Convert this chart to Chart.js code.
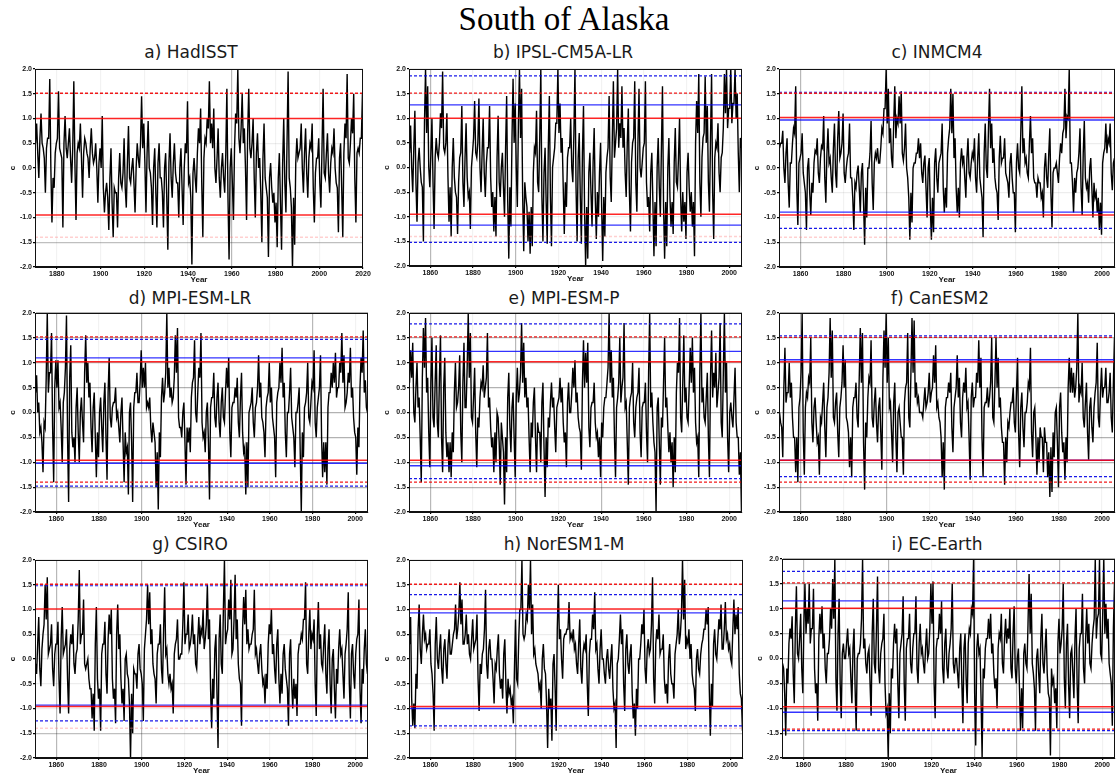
<!DOCTYPE html>
<html><head><meta charset="utf-8">
<script src="https://cdn.jsdelivr.net/npm/chart.js@4.4.1/dist/chart.umd.min.js"></script>
<style>
body{margin:0;background:#fff;width:1116px;height:773px;overflow:hidden;position:relative}
#main{position:absolute;top:0;left:0;width:1128px;text-align:center;font-family:'Liberation Serif',serif;font-size:33px;line-height:38px;color:#000}
.pt{position:absolute;font-family:'DejaVu Sans',sans-serif;font-size:17px;white-space:nowrap;transform:translate(-50%,-50%);color:#1a1a1a}
canvas{position:absolute}
</style></head><body>
<div id="main">South of Alaska</div>
<script>
// ---------- DATA ----------
const panelTitles = ['a) HadISST','b) IPSL-CM5A-LR','c) INMCM4','d) MPI-ESM-LR','e) MPI-ESM-P','f) CanESM2','g) CSIRO','h) NorESM1-M','i) EC-Earth'];
const startYears = [1870,1850,1850,1850,1850,1850,1850,1850,1850];
const xMins = [1870,1850,1850,1850,1850,1850,1850,1850,1850];
const xMaxs = [2020,2006,2006,2006,2006,2006,2006,2006,2006];
const xTicksObs = [1880,1900,1920,1940,1960,1980,2000,2020];
const xTicksModel = [1860,1880,1900,1920,1940,1960,1980,2000];
const yTicks = [-2,-1.5,-1,-0.5,0,0.5,1,1.5,2];

// per-year excursion (spike) values
const hadisst = [
0.9,-0.2,1.1,0.4,-0.5,0.6,1.8,-1.1,-0.4,0.5,
1.55,0.3,-1.2,1.05,0.2,0.8,-0.3,1.75,-1.05,0.5,
0.9,-0.6,0.6,0.3,-0.2,0.8,0.1,0.5,-0.7,0.4,
1.05,-0.9,-0.3,-1.25,0.4,-1.4,-0.5,-1.2,0.3,-0.4,
0.6,-0.8,0.85,-0.3,0.2,-0.9,0.5,0.0,1.45,0.9,
-0.9,0.95,-0.1,-1.15,0.4,-1.2,0.5,-0.2,-1.2,0.3,
-1.65,0.7,-0.6,0.5,-0.3,-1.0,0.4,-1.15,0.5,1.35,
-0.2,-1.95,0.2,-0.5,0.8,1.2,-1.4,0.6,1.0,1.75,
0.9,1.2,-0.3,0.8,-0.6,0.3,-0.5,1.6,-1.85,0.4,
-1.05,1.1,2.0,0.3,1.5,0.8,-1.05,1.6,0.2,1.0,
-1.0,0.7,0.2,-1.5,0.9,-0.4,-1.8,0.1,-0.7,-1.1,
-1.6,0.3,-1.65,1.0,-0.9,1.95,-0.4,-2.0,-1.55,0.6,
0.3,0.9,-0.5,0.8,-0.6,0.5,0.9,-1.1,0.2,0.6,
-0.8,1.6,-0.2,0.7,-0.5,0.4,0.8,-0.3,-1.3,0.5,
-1.4,0.9,1.9,0.1,1.0,1.5,-1.1,0.4,0.6,1.5];
// per-year typical level values
const hadisstLevel = [
0.5,0.3,0.6,0.5,0.2,0.4,0.6,0.0,-0.2,0.3,
0.6,0.4,0.2,0.5,0.4,0.5,0.2,0.4,0.1,0.3,
0.4,0.2,0.3,0.5,0.2,0.4,0.3,0.2,0.0,0.1,
0.0,-0.4,-0.5,-0.6,-0.2,-0.7,-0.4,-0.5,-0.2,-0.3,
-0.1,-0.4,0.1,-0.2,0.0,-0.3,0.0,0.2,0.5,0.4,
0.1,0.3,0.0,-0.4,0.0,-0.5,0.1,-0.2,-0.5,0.0,
-0.6,0.1,-0.2,0.1,-0.1,-0.3,0.0,-0.4,0.0,0.3,
-0.3,-0.6,-0.1,-0.2,0.3,0.5,-0.3,0.2,0.5,0.8,
0.5,0.4,0.0,0.2,-0.2,0.0,-0.2,0.3,-0.6,0.0,
-0.3,0.4,0.9,0.6,0.8,0.5,0.0,0.7,0.4,0.5,
-0.2,0.3,0.0,-0.5,0.2,-0.2,-0.6,-0.2,-0.4,-0.5,
-0.7,-0.2,-0.7,0.1,-0.3,0.5,-0.2,-0.8,-0.6,0.1,
0.2,0.4,0.0,0.3,-0.1,0.2,0.4,-0.4,-0.1,0.2,
-0.3,0.4,-0.1,0.3,-0.1,0.1,0.3,0.0,-0.4,0.2,
-0.4,0.3,0.6,0.2,0.5,0.7,-0.2,0.3,0.3,0.6];

const ipsl = [
0.85,-0.5,1.15,-1.1,0.4,-0.3,-1.5,2.0,1.65,-0.4,
1.0,-1.25,0.6,0.2,1.1,1.95,0.3,1.1,-1.1,-1.4,
0.6,-0.5,-1.35,0.2,1.25,-0.8,0.9,-0.6,-1.25,0.3,
1.35,0.2,1.4,-0.5,1.0,-0.6,0.4,1.25,-0.8,-1.3,
-1.4,1.05,-0.6,0.3,-1.0,1.45,-1.85,-1.2,1.8,1.3,
-0.8,2.0,1.6,-1.7,-0.6,-1.5,-1.75,-1.6,0.4,1.15,
-0.5,2.0,-1.5,0.4,-1.55,1.45,-1.6,0.2,0.9,2.0,
1.3,0.6,-1.35,-0.8,0.4,1.0,-0.3,2.0,-1.5,0.7,
-1.55,1.25,-2.0,-1.85,0.3,-1.2,0.8,-1.45,-1.0,0.5,
-1.9,-1.4,0.2,1.45,-0.7,1.75,0.5,2.0,0.9,1.65,
0.8,-0.6,1.2,-1.3,0.5,1.75,-0.9,1.6,-0.2,0.4,
1.75,-0.8,-1.3,0.3,-1.8,-1.6,0.6,-1.0,1.65,-1.85,
-1.6,0.6,-1.2,-1.35,0.8,-0.4,1.0,-1.3,-1.1,-1.45,
0.3,-0.9,-1.2,-1.8,1.35,1.9,-1.0,0.6,1.85,1.25,
-0.9,1.9,-1.45,0.5,0.9,-0.5,0.3,1.9,2.0,1.2,
2.0,1.3,2.0,1.5,-0.5,0.4];
const ipslLevel = [
0.3,0.0,0.4,-0.3,0.1,0.0,-0.4,0.9,0.7,0.0,
0.3,-0.3,0.2,0.3,0.5,0.8,0.4,0.5,-0.2,-0.4,
0.0,-0.2,-0.6,-0.3,0.3,-0.3,0.2,-0.2,-0.5,0.0,
0.6,0.3,0.5,0.0,0.3,-0.1,0.1,0.4,-0.2,-0.5,
-0.6,0.2,-0.3,0.0,-0.4,0.4,-0.7,-0.4,0.6,0.5,
0.0,0.9,0.6,-0.6,-0.3,-0.8,-0.9,-0.8,-0.1,0.3,
-0.3,0.6,-0.6,-0.1,-0.7,0.4,-0.6,0.0,0.4,0.9,
0.7,0.3,-0.4,-0.3,0.2,0.4,0.0,0.7,-0.4,0.2,
-0.6,0.3,-0.9,-0.8,-0.1,-0.5,0.1,-0.6,-0.5,-0.1,
-0.8,-0.6,-0.1,0.4,-0.2,0.6,0.2,0.8,0.4,0.6,
0.4,-0.1,0.5,-0.5,0.1,0.6,-0.3,0.5,0.0,0.1,
0.5,-0.3,-0.6,-0.1,-0.7,-0.7,0.0,-0.4,0.4,-0.8,
-0.7,0.0,-0.6,-0.7,0.1,-0.3,0.2,-0.6,-0.5,-0.7,
-0.1,-0.4,-0.5,-0.7,0.5,0.7,-0.3,0.2,0.7,0.5,
-0.3,0.6,-0.5,0.2,0.4,-0.1,0.2,0.8,1.1,0.8,
1.2,0.9,1.3,1.0,0.3,0.6];

const inmcm4 = [
0.5,0.75,-0.3,0.6,-0.8,0.1,0.8,1.65,-1.15,0.2,
0.7,-0.3,-1.25,0.2,-0.95,-0.5,0.35,0.6,-0.3,0.45,
1.05,-0.7,0.8,0.2,-0.5,0.9,-0.4,1.15,0.3,1.1,
-0.3,0.2,0.9,-0.2,-1.25,-0.4,0.05,-0.9,0.1,-1.55,
-1.0,0.0,0.95,-0.85,0.3,0.4,0.1,0.8,1.2,2.0,
1.6,0.8,0.0,1.65,1.0,1.45,1.55,0.15,0.9,-0.2,
-1.45,-1.1,0.1,0.3,0.6,0.5,-0.3,0.25,-1.0,0.2,
-1.45,-1.3,0.4,-0.5,0.2,0.9,-0.9,-0.8,0.6,1.6,
1.5,0.6,-0.9,-1.0,0.4,0.25,-0.6,0.6,-0.2,0.3,
0.6,-0.5,0.7,-0.4,-1.4,0.9,-0.2,1.6,0.9,0.4,
-0.4,-1.05,0.65,0.2,0.6,-0.2,-0.6,0.3,-0.5,-1.3,
0.5,-0.1,1.65,0.6,0.2,-0.2,1.05,0.6,-0.3,-0.6,
-0.3,-0.6,-1.0,0.3,-0.4,0.8,-1.2,0.0,0.1,-0.3,
0.5,0.7,1.6,1.05,2.0,0.1,-0.9,-0.5,0.0,0.8,
-0.95,0.95,-0.4,-0.7,0.2,-1.0,-0.6,-0.9,-1.25,-1.35,
0.3,0.9,0.6,0.9,-0.45,0.2];
const inmcm4Level = [
0.4,0.5,0.0,0.3,-0.3,0.1,0.5,0.7,-0.4,0.1,
0.3,-0.1,-0.5,0.0,-0.5,-0.3,0.1,0.3,-0.1,0.2,
0.4,-0.2,0.3,0.1,-0.2,0.4,-0.1,0.6,0.2,0.5,
-0.1,0.0,0.3,-0.2,-0.6,-0.3,-0.1,-0.4,-0.1,-0.7,
-0.4,0.0,0.3,-0.3,0.1,0.2,0.1,0.4,0.7,1.2,
0.9,0.5,0.2,0.9,0.6,0.9,0.9,0.3,0.4,0.0,
-0.6,-0.5,0.0,0.1,0.3,0.2,-0.1,0.1,-0.4,0.0,
-0.8,-0.6,0.1,-0.2,0.1,0.3,-0.4,-0.4,0.3,0.8,
0.7,0.2,-0.4,-0.4,0.1,0.1,-0.2,0.2,-0.1,0.1,
0.2,-0.2,0.2,-0.2,-0.6,0.3,0.0,0.8,0.4,0.1,
-0.2,-0.5,0.2,0.1,0.2,-0.1,-0.3,0.1,-0.2,-0.5,
0.1,0.0,0.7,0.3,0.1,-0.1,0.5,0.3,-0.2,-0.3,
-0.2,-0.3,-0.5,0.0,-0.2,0.3,-0.5,-0.1,0.0,-0.1,
0.2,0.3,0.8,0.6,1.0,0.1,-0.3,-0.2,-0.1,0.3,
-0.4,0.3,-0.2,-0.3,0.0,-0.4,-0.3,-0.5,-0.6,-0.7,
0.1,0.4,0.3,0.5,-0.1,0.1];

const mpiLR = [
0.75,0.2,-0.3,-1.2,-0.3,2.0,0.8,1.6,-1.4,1.05,
1.05,0.2,-1.0,0.4,1.95,-1.8,1.35,-0.7,-1.0,0.5,
-1.0,0.3,-0.6,1.55,1.0,0.6,-0.8,0.4,-1.3,-0.9,
0.3,-0.8,0.6,-1.35,1.1,-0.3,0.2,0.5,0.0,-0.6,
0.3,-1.4,-0.8,-1.65,0.2,-1.8,0.4,0.8,0.2,1.25,
0.9,1.0,0.2,0.3,-0.6,-0.4,-1.5,-1.95,-0.9,0.7,
0.4,2.0,0.9,0.5,0.3,1.55,1.7,-0.3,-0.5,0.2,
-1.45,-0.6,-0.8,0.6,1.45,-0.2,0.9,1.6,-0.5,-0.8,
0.2,-1.75,0.3,0.8,-0.3,0.6,-0.5,0.5,-0.2,0.9,
1.1,-0.9,0.2,0.5,0.7,-0.5,0.8,-0.8,-1.65,-1.5,
0.1,0.5,-0.5,0.2,1.15,0.6,-0.2,-0.9,0.3,1.0,
0.5,-0.3,-1.3,0.4,1.0,1.3,0.6,-0.9,0.0,0.9,
-0.3,-1.1,0.0,0.5,-2.0,-0.9,0.2,1.0,-0.2,0.6,
1.25,-0.5,0.3,1.15,-1.3,-1.2,-1.45,0.4,0.8,1.0,
1.2,0.5,1.0,1.6,1.15,0.2,0.8,1.3,0.5,-0.4,
-1.25,-0.7,1.1,1.65,0.65,0.0];
const mpiLRLevel = [
0.4,0.0,-0.4,-0.6,-0.2,0.7,0.4,0.8,-0.3,0.5,
0.5,0.1,-0.3,0.2,0.9,-0.5,0.7,-0.4,-0.5,0.1,
-0.4,0.0,-0.2,0.8,0.6,0.3,-0.3,0.1,-0.5,-0.4,
0.0,-0.3,0.2,-0.5,0.4,-0.1,0.1,0.2,-0.1,-0.3,
0.0,-0.6,-0.4,-0.7,0.0,-0.6,0.1,0.4,0.2,0.6,
0.5,0.5,0.1,0.1,-0.3,-0.2,-0.6,-0.8,-0.4,0.3,
0.2,0.8,0.5,0.3,0.2,0.7,0.8,-0.1,-0.3,0.0,
-0.6,-0.3,-0.3,0.3,0.7,0.0,0.4,0.7,-0.2,-0.4,
0.0,-0.6,0.1,0.3,-0.1,0.3,-0.2,0.2,-0.1,0.4,
0.5,-0.4,0.1,0.2,0.3,-0.2,0.3,-0.4,-0.7,-0.6,
0.0,0.2,-0.2,0.1,0.5,0.3,-0.1,-0.4,0.1,0.4,
0.2,-0.1,-0.5,0.2,0.5,0.6,0.3,-0.4,0.0,0.4,
-0.1,-0.5,0.0,0.2,-0.8,-0.4,0.1,0.4,-0.1,0.2,
0.5,-0.2,0.1,0.5,-0.5,-0.6,-0.6,0.1,0.4,0.5,
0.6,0.3,0.5,0.8,0.6,0.1,0.4,0.6,0.3,-0.1,
-0.5,-0.3,0.5,0.8,0.4,0.1];

const mpiP = [
1.25,1.4,-0.2,1.0,0.3,-1.4,1.7,1.9,0.7,-1.1,
1.5,-0.3,1.35,-0.5,1.55,-1.2,1.1,-0.9,-1.2,-1.3,
-0.8,1.0,0.2,1.15,-1.0,1.4,0.1,2.0,1.6,-0.2,
0.9,-1.1,-0.3,0.6,0.95,0.5,1.6,0.3,-0.7,-1.2,
-1.0,-0.1,-1.45,-0.5,-1.85,-1.2,0.8,-0.8,0.4,-1.3,
0.9,0.4,1.8,1.4,0.7,0.3,-1.2,-0.5,0.5,-1.2,
-0.4,-1.0,0.6,-1.7,-1.1,-0.3,0.6,0.3,-0.8,0.2,
0.7,0.5,-0.6,-1.1,0.6,0.0,0.9,1.05,0.4,-0.3,
-1.15,1.45,1.2,1.4,-0.7,0.2,0.6,-0.5,-0.9,-1.3,
-0.5,0.3,0.6,2.0,1.25,0.7,-1.3,0.3,1.5,0.5,
1.8,0.2,-1.45,0.3,1.0,-0.5,0.3,0.9,-0.9,0.2,
0.6,-1.0,2.0,0.4,-0.6,-2.0,0.3,-1.45,-0.3,1.5,
0.3,-0.8,-1.0,-1.5,-1.2,1.0,1.9,-0.4,1.55,0.5,
-0.2,1.3,1.5,0.9,-0.6,-1.3,2.0,0.5,-0.2,0.8,
-1.3,1.65,0.8,1.2,0.4,1.8,-0.5,2.0,1.0,-1.2,
0.2,-0.3,0.9,-0.5,-1.25,-2.0];
const mpiPLevel = [
0.6,0.7,0.0,0.5,0.1,-0.5,0.7,0.9,0.4,-0.4,
0.6,-0.1,0.6,-0.2,0.7,-0.5,0.5,-0.4,-0.6,-0.6,
-0.4,0.4,0.1,0.5,-0.4,0.6,0.1,0.9,0.7,-0.1,
0.3,-0.4,-0.1,0.3,0.5,0.3,0.7,0.1,-0.3,-0.5,
-0.4,0.0,-0.6,-0.2,-0.8,-0.5,0.3,-0.3,0.1,-0.5,
0.3,0.2,0.8,0.6,0.3,0.1,-0.5,-0.2,0.2,-0.5,
-0.2,-0.4,0.2,-0.7,-0.5,-0.1,0.2,0.1,-0.3,0.1,
0.3,0.2,-0.2,-0.4,0.2,0.0,0.4,0.5,0.2,-0.1,
-0.4,0.6,0.5,0.6,-0.3,0.1,0.2,-0.2,-0.4,-0.5,
-0.2,0.1,0.3,0.9,0.6,0.3,-0.5,0.1,0.6,0.2,
0.7,0.1,-0.6,0.1,0.4,-0.2,0.1,0.4,-0.4,0.1,
0.2,-0.4,0.8,0.1,-0.2,-0.8,0.1,-0.6,-0.1,0.6,
0.1,-0.3,-0.4,-0.6,-0.5,0.4,0.8,-0.1,0.6,0.2,
-0.1,0.5,0.6,0.4,-0.2,-0.5,0.8,0.2,-0.1,0.3,
-0.5,0.7,0.3,0.5,0.1,0.7,-0.2,0.8,0.4,-0.5,
0.0,-0.1,0.3,-0.2,-0.5,-0.8];

const canesm2 = [
-0.2,-0.9,1.3,0.4,1.0,0.6,-0.5,-1.2,-1.4,0.3,
2.0,-1.25,0.4,0.7,1.5,-0.6,0.3,-0.6,-1.25,-0.2,
0.6,-0.9,0.3,1.9,1.65,-0.2,0.4,-0.9,0.3,1.35,
1.05,-0.2,-1.1,-1.3,0.3,0.6,-0.3,1.7,1.6,-1.55,
-0.5,0.7,1.45,-0.3,0.5,-0.6,0.3,-1.15,1.65,2.0,
1.5,0.2,-1.0,0.6,-1.2,0.1,-0.5,-1.25,0.5,1.6,
-0.3,1.9,1.85,0.6,0.3,0.0,-0.1,0.5,0.2,0.8,
0.4,1.15,1.35,0.2,-0.2,-1.3,-1.55,0.3,0.6,0.8,
-0.8,0.3,1.15,0.7,-0.5,0.6,0.9,0.2,-1.35,0.6,
0.3,0.8,1.45,1.1,-1.3,0.2,0.5,0.3,1.5,-0.2,
1.5,1.1,0.3,-0.6,-1.45,-1.0,-0.3,0.2,0.5,-0.4,
1.1,-1.1,0.4,-0.7,0.0,0.6,1.3,-0.9,0.1,-1.25,
-1.0,-0.5,-1.2,-0.6,-1.3,-1.7,-1.6,-0.9,0.1,-1.5,
0.4,-0.8,-1.35,-1.0,1.1,0.9,0.8,0.5,2.0,0.5,
1.0,-0.3,0.6,-0.95,0.3,-0.6,0.4,1.4,-0.3,0.9,
0.5,0.9,0.2,0.8,-0.4,1.5];
const canesm2Level = [
0.0,-0.3,0.5,0.2,0.4,0.3,-0.1,-0.5,-0.5,0.1,
0.8,-0.4,0.1,0.3,0.6,-0.2,0.1,-0.2,-0.5,-0.1,
0.2,-0.3,0.1,0.8,0.7,-0.1,0.2,-0.4,0.1,0.6,
0.5,-0.1,-0.4,-0.5,0.1,0.3,-0.1,0.7,0.6,-0.6,
-0.2,0.3,0.6,-0.1,0.2,-0.2,0.1,-0.4,0.7,0.9,
0.6,0.1,-0.4,0.2,-0.5,0.0,-0.2,-0.5,0.2,0.6,
-0.1,0.8,0.8,0.3,0.2,0.0,0.0,0.2,0.1,0.4,
0.2,0.5,0.6,0.1,-0.1,-0.5,-0.6,0.1,0.3,0.4,
-0.3,0.1,0.5,0.3,-0.2,0.3,0.4,0.1,-0.5,0.3,
0.1,0.3,0.6,0.5,-0.5,0.1,0.2,0.1,0.6,-0.1,
0.6,0.5,0.1,-0.3,-0.6,-0.5,-0.2,0.0,0.2,-0.2,
0.4,-0.4,0.1,-0.3,0.0,0.2,0.5,-0.4,0.0,-0.5,
-0.5,-0.3,-0.5,-0.3,-0.6,-0.8,-0.7,-0.4,0.0,-0.6,
0.1,-0.4,-0.6,-0.5,0.5,0.4,0.4,0.3,0.9,0.2,
0.4,-0.1,0.2,-0.4,0.1,-0.3,0.1,0.6,-0.1,0.4,
0.3,0.5,0.2,0.4,-0.1,0.6];

const csiro = [
-0.3,0.85,-0.55,0.5,1.5,1.65,0.2,0.7,-0.55,0.3,
0.75,-1.1,1.05,0.2,0.6,-1.1,0.5,0.7,-0.3,0.2,
1.8,0.5,1.2,-0.2,0.0,-0.6,-1.2,-1.45,1.05,-0.8,
-1.45,0.3,0.75,-0.7,0.9,1.0,-0.8,-1.3,1.1,0.5,
-0.9,-1.25,0.1,-0.4,-2.0,-1.5,-0.3,-0.6,0.3,-0.3,
-1.25,0.5,1.5,1.35,0.6,-0.3,-0.9,0.3,0.7,-0.5,
1.45,0.2,-0.5,-0.6,-1.1,0.3,0.8,0.0,0.1,1.55,
0.5,0.9,0.3,0.9,0.5,-0.2,0.85,0.6,1.0,0.4,
1.5,0.8,-1.4,-0.8,0.5,-1.8,0.9,-0.3,2.0,0.5,
1.2,1.6,0.2,1.7,0.8,-0.4,-1.35,1.25,1.4,0.6,
0.3,0.5,1.4,0.2,-0.3,0.3,-0.5,-0.9,-0.6,0.7,
1.0,0.3,-0.5,0.6,-0.9,-0.7,0.3,-0.4,-1.35,0.4,
-1.0,-0.8,-1.15,0.3,0.5,0.8,1.55,-0.3,1.0,0.5,
0.8,-1.15,1.15,0.5,-0.2,0.7,-0.7,0.6,-1.1,0.2,
-1.2,-0.5,0.6,0.2,-0.8,0.3,1.35,-1.2,0.3,-0.6,
0.4,1.2,-1.3,-0.5,0.6,-0.3];
const csiroLevel = [
-0.1,0.3,-0.2,0.2,0.7,0.8,0.1,0.3,-0.2,0.1,
0.3,-0.4,0.4,0.1,0.3,-0.4,0.2,0.3,-0.1,0.1,
0.8,0.3,0.5,-0.1,-0.1,-0.4,-0.6,-0.7,0.3,-0.4,
-0.6,0.1,0.3,-0.3,0.4,0.5,-0.4,-0.6,0.5,0.2,
-0.4,-0.6,0.0,-0.3,-0.9,-0.7,-0.2,-0.3,0.1,-0.2,
-0.5,0.2,0.8,0.7,0.3,-0.1,-0.4,0.1,0.3,-0.2,
0.6,0.1,-0.3,-0.3,-0.5,0.1,0.4,0.0,0.1,0.7,
0.3,0.5,0.2,0.5,0.3,-0.1,0.4,0.3,0.5,0.2,
0.7,0.4,-0.6,-0.4,0.2,-0.7,0.4,-0.1,1.0,0.3,
0.6,0.8,0.1,0.8,0.4,-0.1,-0.5,0.6,0.7,0.3,
0.2,0.3,0.6,0.1,-0.1,0.1,-0.2,-0.4,-0.3,0.3,
0.5,0.1,-0.2,0.3,-0.4,-0.3,0.1,-0.2,-0.6,0.1,
-0.5,-0.4,-0.5,0.1,0.3,0.4,0.8,-0.1,0.5,0.2,
0.4,-0.5,0.5,0.2,-0.1,0.3,-0.3,0.2,-0.5,0.0,
-0.6,-0.2,0.2,0.1,-0.3,0.1,0.6,-0.5,0.1,-0.3,
0.1,0.5,-0.6,-0.2,0.2,-0.1];

const noresm = [
0.85,-1.35,-1.4,-0.6,1.1,-0.1,0.9,0.5,0.3,0.6,
-0.3,-1.45,0.85,-0.2,0.5,-0.5,0.4,-0.4,0.6,0.1,
0.5,1.1,0.6,1.55,1.2,0.3,0.9,0.5,0.0,0.8,
0.3,0.9,-1.05,-0.3,0.2,1.4,-0.4,0.4,0.0,-0.9,
-0.2,0.5,-0.6,-0.8,0.4,-1.1,-0.7,-0.9,-1.3,0.8,
-0.5,1.0,2.0,0.4,0.9,1.5,2.0,1.1,0.2,-0.2,
-0.6,-1.0,0.3,-0.3,-1.8,-1.0,-1.65,0.1,-1.45,1.5,
0.6,-0.4,0.5,0.6,1.15,0.5,0.6,0.3,-0.3,0.8,
-0.5,0.3,0.5,-1.15,0.4,0.9,1.35,0.3,-0.5,0.6,
0.0,-0.5,0.2,-0.4,0.3,-1.0,-1.8,0.0,0.9,0.6,
-1.05,0.5,-0.3,0.3,-1.2,-1.55,-1.0,0.0,0.7,1.0,
-0.5,0.4,0.2,1.65,-0.9,0.6,0.9,0.2,0.5,-0.7,
-0.9,0.3,-0.5,-0.8,0.3,1.0,0.5,2.0,1.6,0.4,
0.6,0.3,-0.5,-1.05,0.2,-0.3,0.3,0.6,1.0,1.05,
-1.55,-0.95,0.6,0.0,0.8,1.1,0.2,1.15,0.5,0.3,
-0.1,1.2,0.9,1.05,-0.7,-1.45];
const noresmLevel = [
0.3,-0.8,-0.9,-0.3,0.6,0.2,0.5,0.4,0.2,0.3,
-0.1,-0.7,0.3,0.0,0.2,-0.2,0.2,-0.1,0.3,0.1,
0.3,0.6,0.4,0.9,0.7,0.3,0.5,0.3,0.1,0.4,
0.2,0.4,-0.4,-0.1,0.1,0.6,-0.1,0.2,0.0,-0.4,
-0.1,0.2,-0.3,-0.4,0.1,-0.5,-0.4,-0.6,-0.8,-0.2,
-0.4,0.4,1.0,0.5,0.5,0.8,1.0,0.5,0.1,-0.1,
-0.3,-0.5,0.0,-0.2,-0.9,-0.6,-0.8,-0.1,-0.6,0.6,
0.4,0.0,0.4,0.5,0.6,0.4,0.4,0.2,-0.1,0.3,
-0.2,0.1,0.2,-0.5,0.1,0.4,0.6,0.2,-0.2,0.2,
0.0,-0.3,0.0,-0.2,0.0,-0.6,-0.9,-0.1,0.4,0.3,
-0.5,0.2,-0.1,0.1,-0.7,-0.9,-0.6,0.0,0.3,0.5,
-0.2,0.2,0.1,0.7,-0.4,0.3,0.4,0.1,0.2,-0.4,
-0.5,0.0,-0.3,-0.5,0.1,0.5,0.3,0.9,0.8,0.2,
0.3,0.0,-0.3,-0.6,0.0,-0.2,0.1,0.4,0.6,0.7,
-0.6,-0.5,0.3,0.1,0.4,0.6,0.2,0.6,0.4,0.2,
0.0,0.6,0.5,0.6,-0.3,-0.8];

const ecearth = [
-0.2,-1.55,-0.5,0.6,0.85,-0.9,1.45,0.0,0.9,-0.7,
1.5,1.0,1.5,0.6,1.4,-0.7,-1.25,0.9,1.05,0.5,
-0.5,0.1,1.0,1.6,2.0,-1.05,1.2,-1.2,0.3,0.0,
0.6,0.2,-0.9,0.6,-1.45,0.1,0.3,2.0,0.4,-0.3,
0.2,-1.15,1.2,-0.3,1.65,-0.5,0.3,0.9,-1.1,-2.0,
-1.5,-0.4,0.7,0.6,-1.2,0.3,1.25,-1.25,0.4,0.9,
-0.3,0.5,1.25,-0.5,0.7,0.2,-0.3,0.6,0.1,1.5,
1.55,-1.2,0.4,0.9,1.15,-0.5,0.6,-0.4,0.3,1.5,
-0.3,0.0,-0.6,0.5,-1.3,0.5,-0.9,0.6,1.0,2.0,
-1.75,0.5,0.2,-2.0,-0.4,0.4,0.8,0.9,0.3,-0.6,
-1.0,0.5,0.9,-0.3,0.8,0.6,1.0,-0.4,1.05,-0.5,
0.2,-1.45,-1.4,0.3,-0.2,1.7,1.3,-0.3,-1.45,0.2,
-0.7,0.9,-0.3,0.6,-0.7,-1.95,-0.5,-0.9,-1.4,0.8,
0.3,1.5,-1.0,0.7,-1.2,0.2,-0.8,1.0,-1.3,0.5,
1.3,-0.5,1.0,0.7,-0.2,0.6,2.0,0.8,2.0,0.0,
2.0,1.1,0.8,-0.3,-1.35,1.5];
const ecearthLevel = [
-0.1,-0.7,-0.2,0.3,0.4,-0.3,0.6,0.1,0.4,-0.2,
0.7,0.5,0.7,0.3,0.6,-0.2,-0.5,0.4,0.5,0.2,
-0.2,0.1,0.4,0.6,0.8,-0.4,0.5,-0.5,0.1,0.0,
0.3,0.1,-0.4,0.2,-0.6,0.0,0.1,0.8,0.2,-0.1,
0.1,-0.5,0.5,-0.1,0.6,-0.2,0.1,0.4,-0.5,-1.0,
-0.7,-0.2,0.3,0.3,-0.5,0.1,0.5,-0.5,0.2,0.4,
-0.1,0.2,0.5,-0.2,0.3,0.1,-0.1,0.2,0.0,0.6,
0.7,-0.5,0.2,0.4,0.5,-0.2,0.3,-0.2,0.1,0.6,
-0.1,0.0,-0.3,0.2,-0.5,0.2,-0.4,0.3,0.5,0.9,
-0.7,0.2,0.1,-0.8,-0.2,0.2,0.4,0.4,0.1,-0.3,
-0.4,0.2,0.4,-0.1,0.4,0.3,0.4,-0.2,0.5,-0.2,
0.0,-0.6,-0.6,0.1,-0.1,0.7,0.5,-0.1,-0.6,0.0,
-0.3,0.4,-0.1,0.2,-0.3,-0.8,-0.2,-0.4,-0.6,0.3,
0.1,0.6,-0.4,0.3,-0.5,0.1,-0.3,0.4,-0.5,0.2,
0.5,-0.2,0.4,0.3,-0.1,0.3,0.8,0.4,0.9,0.1,
0.9,0.5,0.4,-0.1,-0.5,0.6];

const spikeList = [hadisst, ipsl, inmcm4, mpiLR, mpiP, canesm2, csiro, noresm, ecearth];
const levelList = [hadisstLevel, ipslLevel, inmcm4Level, mpiLRLevel, mpiPLevel, canesm2Level, csiroLevel, noresmLevel, ecearthLevel];

// threshold lines per panel (a..i)
const redSolidLines  = [[1.0,-0.95],[1.0,-0.95],[1.02,-0.95],[1.02,-0.96],[1.02,-0.96],[1.02,-0.96],[1.01,-0.96],[1.01,-0.96],[1.01,-0.97]];
const redDashLines   = [[1.51],[1.51],[1.51],[1.52,-1.4],[1.52,-1.4],[1.51,-1.4],[1.51],[1.51],[1.52,-1.42]];
const pinkDashLines  = [[-1.4],[-1.4],[-1.4],[],[],[],[-1.4],[-1.4],[]];
const blueSolidLines = [[],[1.27,-1.17],[0.97,-0.89],[1.1,-1.02],[1.23,-1.07],[1.06,-0.96],[-0.93],[0.93,-1.0],[1.16,-1.08]];
const blueDashLines  = [[],[1.86,-1.52],[1.53,-1.22],[1.47,-1.48],[1.78,-1.33],[1.54,-1.29],[1.48,-1.25],[1.3,-1.35],[1.75,-1.45]];

// ---------- LAYOUT / STYLE ----------
const plotRects = [[35,69,363,267],[409,69,742,266],[779,69,1115,267],
                   [35,313,368,512],[409,313,742,512],[779,313,1115,512],
                   [35,560,368,758],[409,560,743,758],[782,559,1115,758]];
const titleCenters = [[191,52],[563,52],[937,52],[190,298],[564,298],[940,298],[190,544],[564,544],[937,544]];
const hGridAlpha = [0.07,0.07,0.07,0.3,0.3,0.3,0.07,0.07,0.3];
const hGridStrong = [[-1.5],[],[-1.5],[],[],[],[-1.5],[-1.5],[]];
const vGridStrong = [[1960],[1860,1900],[1860,1900],[1860,1900,1980],[1860,1900,1940],[1860,1900],[1860,1900],[1900],[1860,1900,1940,1960,1980]];

const tickFont = {family:'Liberation Sans', size:7, weight:'bold'};
const labFont = {family:'Liberation Sans', size:8, weight:'bold'};

const framePlugin = {id:'frame', afterDraw(c){const a=c.chartArea,x=c.ctx;x.save();x.strokeStyle='#111';x.lineWidth=1;
  x.strokeRect(Math.round(a.left)+0.5,Math.round(a.top)+0.5,Math.round(a.right-a.left)-1,Math.round(a.bottom-a.top)-1);x.restore();}};

function hline(v, xmin, xmax, color, width, dash){
  return {data:[{x:xmin,y:v},{x:xmax,y:v}], borderColor:color, borderWidth:width, borderDash:dash,
          pointRadius:0, fill:false, order:0, tension:0};
}

panelTitles.forEach((t,i)=>{
  const d=document.createElement('div'); d.className='pt'; d.textContent=t;
  d.style.left=titleCenters[i][0]+'px'; d.style.top=titleCenters[i][1]+'px';
  document.body.appendChild(d);
});

function seriesPoints(i){
  const pts=[]; const y0=startYears[i];
  spikeList[i].forEach((v,k)=>{
    pts.push({x:y0+k+0.25, y:levelList[i][k]});
    pts.push({x:y0+k+0.75, y:v});
  });
  return pts;
}

function makePanel(i){
  const [L,T,R,B] = plotRects[i];
  const padTop=8, padRight=14, yW=35, xH=19;
  const w=R-L+yW+padRight, h=B-T+padTop+xH;
  const cv=document.createElement('canvas');
  cv.width=w; cv.height=h;
  cv.style.left=(L-yW)+'px'; cv.style.top=(T-padTop)+'px';
  cv.style.width=w+'px'; cv.style.height=h+'px';
  document.body.appendChild(cv);
  const xmin=xMins[i], xmax=xMaxs[i];
  const xt = i===0 ? xTicksObs : xTicksModel;
  const ds=[];
  redSolidLines[i].forEach(v=>ds.push(hline(v,xmin,xmax,'rgba(255,0,0,0.85)',1.6,[])));
  redDashLines[i].forEach(v=>ds.push(hline(v,xmin,xmax,'rgba(240,0,0,0.9)',1.4,[3,2])));
  pinkDashLines[i].forEach(v=>ds.push(hline(v,xmin,xmax,'rgba(255,120,120,0.35)',1.4,[3,2])));
  blueSolidLines[i].forEach(v=>ds.push(hline(v,xmin,xmax,'rgba(0,0,255,0.8)',1.3,[])));
  blueDashLines[i].forEach(v=>ds.push(hline(v,xmin,xmax,'rgba(0,0,230,0.9)',1.2,[3,2])));
  ds.push({data:seriesPoints(i), borderColor:'#000', borderWidth:1.4,
           pointRadius:0, fill:false, order:1, tension:0});
  new Chart(cv,{type:'line', data:{datasets:ds}, plugins:[framePlugin],
    options:{responsive:false, animation:false, devicePixelRatio:1,
      layout:{padding:{top:padTop,right:padRight,left:0,bottom:0}},
      plugins:{legend:{display:false},tooltip:{enabled:false},title:{display:false}},
      scales:{
        x:{type:'linear', min:xmin, max:xmax,
           afterBuildTicks:s=>{s.ticks=xt.map(v=>({value:v}));},
           afterFit:s=>{s.height=xH; s.paddingLeft=0; s.paddingRight=0;},
           ticks:{font:tickFont,color:'#111',padding:1,maxRotation:0,autoSkip:false,callback:v=>String(v)},
           grid:{color:c=>{const v=c.tick&&c.tick.value; return vGridStrong[i].includes(v)?'rgba(0,0,0,0.28)':'rgba(0,0,0,0.05)';},
                 lineWidth:1.2, tickLength:2, tickColor:'#000', drawTicks:true},
           border:{display:true,color:'#111'},
           title:{display:true,text:'Year',font:labFont,color:'#111',padding:{top:0,bottom:1}}},
        y:{type:'linear', min:-2, max:2,
           afterBuildTicks:s=>{s.ticks=yTicks.map(v=>({value:v}));},
           afterFit:s=>{s.width=yW; s.paddingTop=0; s.paddingBottom=0;},
           ticks:{font:tickFont,color:'#111',padding:1,callback:v=>Number(v).toFixed(1)},
           grid:{color:c=>{const v=c.tick&&c.tick.value; return hGridStrong[i].includes(v)?'rgba(0,0,0,0.25)':'rgba(0,0,0,'+hGridAlpha[i]+')';},
                 lineWidth:1.2, tickLength:2, tickColor:'#000', drawTicks:true},
           border:{display:true,color:'#111'},
           title:{display:true,text:'c',font:labFont,color:'#111',padding:{top:8,bottom:0}}}
      }}});
}
for(let i=0;i<9;i++) makePanel(i);
</script>
</body></html>
